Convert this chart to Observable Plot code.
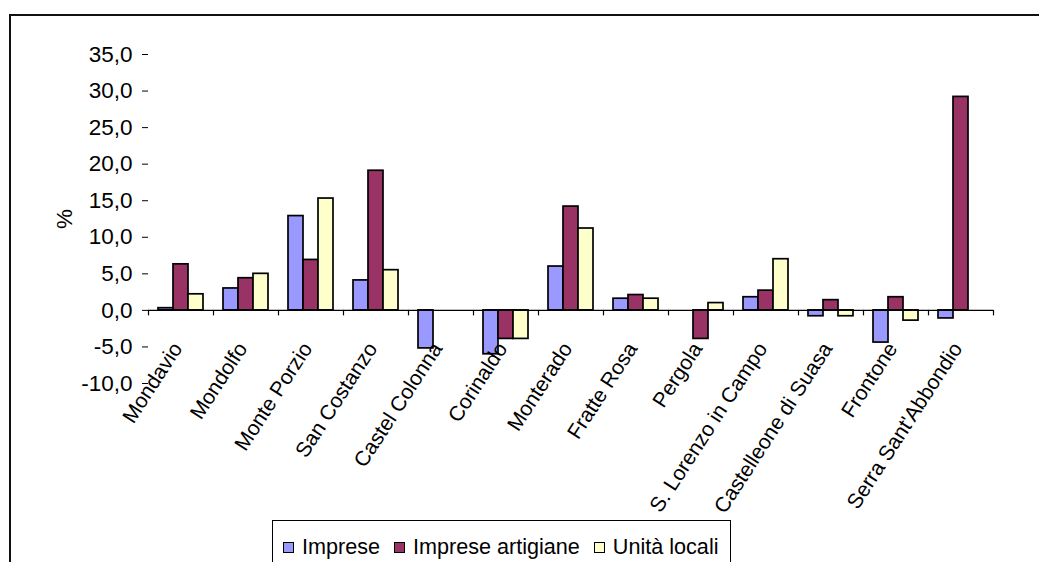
<!DOCTYPE html>
<html>
<head>
<meta charset="utf-8">
<script src="https://cdn.jsdelivr.net/npm/d3@7"></script>
<script src="https://cdn.jsdelivr.net/npm/@observablehq/plot@0.6"></script>
<style>
  html, body { margin: 0; padding: 0; background: #fff; }
  #wrap { position: relative; width: 1039px; height: 562px; overflow: hidden; font-family: "Liberation Sans", Arial, sans-serif; }
  #frame { position: absolute; left: 9px; top: 14px; width: 1100px; height: 600px; border-left: 2px solid #111; border-top: 2px solid #111; box-sizing: border-box; }
  #legend { position: absolute; left: 272px; top: 520px; width: 459px; height: 60px; border: 1px solid #000; border-bottom: none; box-sizing: border-box; background: #fff; display: flex; align-items: flex-start; padding-top: 13px; padding-left: 10px; font-size: 21.6px; color: #000; }
  #legend .item { display: flex; align-items: center; margin-right: 14px; white-space: nowrap; }
  #legend .sw { width: 9px; height: 9px; border: 1.5px solid #000; margin-right: 8px; box-sizing: content-box; }
  svg { position: absolute; left: 0; top: 0; }
</style>
</head>
<body>
<div id="wrap">
  <div id="frame"></div>
  <div id="chart"></div>
  <div id="legend"></div>
</div>
<script>
const comuni = ["Mondavio", "Mondolfo", "Monte Porzio", "San Costanzo", "Castel Colonna", "Corinaldo", "Monterado", "Fratte Rosa", "Pergola", "S. Lorenzo in Campo", "Castelleone di Suasa", "Frontone", "Serra Sant'Abbondio"];
const imprese = [0.3, 3.0, 12.9, 4.1, -5.2, -6.0, 6.0, 1.6, null, 1.8, -0.8, -4.4, -1.1];
const impreseArtigiane = [6.3, 4.4, 6.9, 19.1, null, -3.9, 14.2, 2.1, -3.9, 2.7, 1.4, 1.8, 29.2];
const unitaLocali = [2.2, 5.0, 15.3, 5.5, null, -3.9, 11.2, 1.6, 1.0, 7.0, -0.8, -1.4, null];
const serie = ["Imprese", "Imprese artigiane", "Unità locali"];
const colori = ["#9999FF", "#993366", "#FFFFCC"];
const yTicks = [-10, -5, 0, 5, 10, 15, 20, 25, 30, 35];

const mk = (vals) => comuni.map((c, i) => ({comune: c, v: vals[i]})).filter(d => d.v != null);
const sets = [mk(imprese), mk(impreseArtigiane), mk(unitaLocali)];
const fmt = d => d3.format(".1f")(d).replace(".", ",").replace("\u2212", "-");

const barOpts = (k) => ({x: "comune", y: "v", fill: colori[k], stroke: "#000", strokeWidth: 1.7, insetLeft: 25, insetRight: 25, dx: (k - 1) * 15});

const chart = Plot.plot({
  width: 1039,
  height: 562,
  marginLeft: 148,
  marginRight: 46,
  marginTop: 54,
  marginBottom: 179,
  style: {fontFamily: "'Liberation Sans', Arial, sans-serif", fontSize: "21px", color: "#000", background: "transparent", overflow: "visible"},
  x: {domain: comuni, padding: 0, axis: null},
  y: {domain: [-10, 35], axis: null},
  marks: [
    Plot.ruleX([0], {frameAnchor: "left", y1: -10, y2: 35, stroke: "#808080", strokeWidth: 1.2}),
    Plot.axisY({ticks: yTicks, tickFormat: fmt, tickSize: 6, tickPadding: 10, label: "%", labelAnchor: "center", labelArrow: "none", labelOffset: 92, fontSize: 22.5, stroke: "#000"}),
    Plot.barY(sets[0], barOpts(0)),
    Plot.barY(sets[1], barOpts(1)),
    Plot.barY(sets[2], barOpts(2)),
    Plot.ruleY([0], {stroke: "#000", strokeWidth: 1.2}),
    Plot.ruleX(comuni, {x: d => d, y1: 0, y2: -0.75, dx: -32.5, stroke: "#000", strokeWidth: 1.2}),
    Plot.ruleX(comuni.slice(-1), {x: d => d, y1: 0, y2: -0.75, dx: 32.5, stroke: "#000", strokeWidth: 1.2}),
    Plot.text(comuni, {x: d => d, y: 0, text: d => d, rotate: -57, textAnchor: "end", lineAnchor: "bottom", dy: 38, dx: 2, fontSize: 21, fill: "#000"})
  ]
});
document.getElementById("chart").appendChild(chart);

const leg = document.getElementById("legend");
serie.forEach((s, i) => {
  const it = document.createElement("div");
  it.className = "item";
  const sw = document.createElement("span");
  sw.className = "sw";
  sw.style.background = colori[i];
  const t = document.createElement("span");
  t.textContent = s;
  it.appendChild(sw); it.appendChild(t);
  leg.appendChild(it);
});
</script>
</body>
</html>
